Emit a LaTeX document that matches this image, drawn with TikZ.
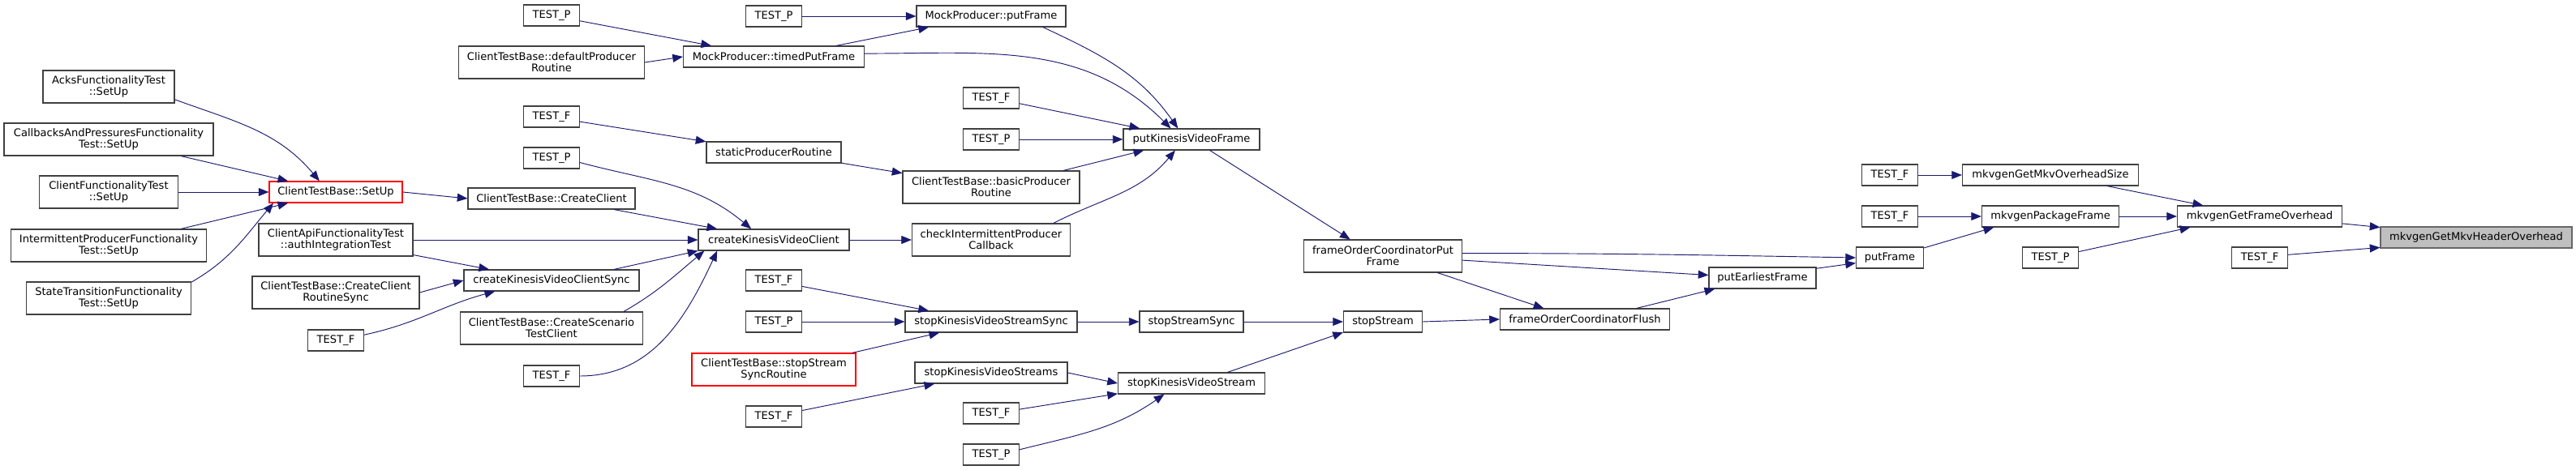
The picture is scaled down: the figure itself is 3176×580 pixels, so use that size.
\documentclass[tikz,border=0pt]{standalone}
\usepackage{fontspec}
\setmainfont{DejaVu Sans}
\usetikzlibrary{arrows.meta}
\definecolor{edgeblue}{HTML}{191970}
\definecolor{hdrgray}{HTML}{BFBFBF}
\newcommand{\dfont}{\fontsize{9.8pt}{10.5pt}\selectfont}

\begin{document}
\begin{tikzpicture}[x=0.75pt,y=-0.75pt,every node/.style={font=\dfont},
  fn/.style={draw=black!75,fill=white,line width=0.85pt,minimum width=#1*0.75pt,minimum height=19.5pt,inner sep=1pt},
  fnb/.style={fn=#1,minimum height=30pt,align=center},
  tst/.style={fn=69},
  call/.style={draw=edgeblue,line width=0.7pt,-{Triangle[length=9.5pt,width=7.5pt]}}]
\fill[white] (0,0) rectangle (3176,580);
\useasboundingbox (0,0) rectangle (3176,580);
% SetUp callers
\node[fnb=162] (acks) at (134,107) {AcksFunctionalityTest\\::SetUp};
\node[fnb=258] (cbp) at (134,172) {CallbacksAndPressuresFunctionality\\Test::SetUp};
\node[fnb=171] (cft) at (134,237) {ClientFunctionalityTest\\::SetUp};
\node[fnb=241] (ipf) at (134,303) {IntermittentProducerFunctionality\\Test::SetUp};
\node[fnb=203] (stf) at (134,368) {StateTransitionFunctionality\\Test::SetUp};
% second column
\node[fn=164,draw=red] (setup) at (414,237) {ClientTestBase::SetUp};
\node[fnb=190] (capi) at (414,296) {ClientApiFunctionalityTest\\::authIntegrationTest};
\node[fnb=206] (ccrs) at (414,361) {ClientTestBase::CreateClient\\RoutineSync};
\node[tst] (tf2) at (414,420) {TEST\_F};
% third column
\node[tst] (tp1) at (680,19) {TEST\_P};
\node[fnb=229] (dpr) at (680,77) {ClientTestBase::defaultProducer\\Routine};
\node[tst] (tf3) at (680,144) {TEST\_F};
\node[tst] (tp3) at (680,195) {TEST\_P};
\node[fn=206] (ccl) at (680,245) {ClientTestBase::CreateClient};
\node[fn=216] (ckvcs) at (680,346) {createKinesisVideoClientSync};
\node[fnb=225] (ccst) at (680,405) {ClientTestBase::CreateScenario\\TestClient};
\node[tst] (tf3b) at (680,464) {TEST\_F};
% fourth column
\node[tst] (tp4) at (954,20) {TEST\_P};
\node[fn=223] (mpt) at (954,70) {MockProducer::timedPutFrame};
\node[fn=166] (spr) at (954,188) {staticProducerRoutine};
\node[fn=186] (ckvc) at (954,296) {createKinesisVideoClient};
\node[tst] (tf4a) at (954,346) {TEST\_F};
\node[tst] (tp4b) at (954,397) {TEST\_P};
\node[fnb=202,draw=red] (ssr) at (954,456) {ClientTestBase::stopStream\\SyncRoutine};
\node[tst] (tf4c) at (954,514) {TEST\_F};
% fifth column
\node[fn=184] (mpf) at (1222,20) {MockProducer::putFrame};
\node[tst] (tf5a) at (1222,121) {TEST\_F};
\node[tst] (tp5) at (1222,172) {TEST\_P};
\node[fnb=218] (bpr) at (1222,231) {ClientTestBase::basicProducer\\Routine};
\node[fnb=195] (cipc) at (1222,296) {checkIntermittentProducer\\Callback};
\node[fn=212] (skvss) at (1222,397) {stopKinesisVideoStreamSync};
\node[fn=188] (skvs2) at (1222,460) {stopKinesisVideoStreams};
\node[tst] (tf5b) at (1222,510) {TEST\_F};
\node[tst] (tp5b) at (1222,561) {TEST\_P};
% toward the header overhead
\node[fn=168] (pkvf) at (1469,172) {putKinesisVideoFrame};
\node[fn=128] (sss) at (1469,397) {stopStreamSync};
\node[fn=181] (skvs) at (1469,473) {stopKinesisVideoStream};
\node[fnb=195] (focpf) at (1705,316) {frameOrderCoordinatorPut\\Frame};
\node[fn=97] (sst) at (1705,397) {stopStream};
\node[fn=209] (focf) at (1954,394) {frameOrderCoordinatorFlush};
\node[fn=132] (pef) at (2173,343) {putEarliestFrame};
\node[tst] (tf10a) at (2330,216) {TEST\_F};
\node[tst] (tf10b) at (2330,267) {TEST\_F};
\node[fn=83] (pf) at (2330,318) {putFrame};
\node[fn=217] (mgmos) at (2528,216) {mkvgenGetMkvOverheadSize};
\node[fn=169] (mpkf) at (2528,267) {mkvgenPackageFrame};
\node[tst] (tp11) at (2528,318) {TEST\_P};
\node[fn=203] (mgfo) at (2786,267) {mkvgenGetFrameOverhead};
\node[tst] (tf12) at (2786,318) {TEST\_F};
\node[fn=236,fill=hdrgray,draw=black!60] (hdr) at (3053,293) {mkvgenGetMkvHeaderOverhead};
% straight calls
\foreach \a/\b in {cft/setup,setup/ccl,capi/ckvc,tp4/mpf,dpr/mpt,tp5/pkvf,ckvc/cipc,tp4b/skvss,
  skvss/sss,sss/sst,sst/focf,tf10a/mgmos,tf10b/mpkf,mpkf/mgfo,skvs2/skvs,ccrs/ckvcs}
  \draw[call] (\a.east) -- (\b.west);
\foreach \a/\b in {cbp.-13/setup.167,ipf.13/setup.193,capi.-11/ckvcs.170,tp1.-11/mpt.170,
  tf3.-10/spr.171,ccl.-10/ckvc.169,ckvcs.10/ckvc.south west,mpt.10/mpf.190,spr.-9/bpr.171,
  tf4a.-12/skvss.170,ssr.12/skvss.192,tf4c.12/skvs2.191,tf5a.-11/pkvf.168,bpr.13/pkvf.193,
  tf5b.8/skvs.188,pkvf.-31/focpf.153,skvs.17/sst.195,focpf.-3/pef.177,focpf.-17/focf.165,
  focf.12/pef.193,pef.10/pf.189,pf.16/mpkf.191,mgmos.-11/mgfo.169,tp11.12/mgfo.189,
  mgfo.-5/hdr.174,tf12.6/hdr.186}
  \draw[call] (\a) -- (\b);
% curved calls
\draw[call] (acks.-11) to[out=-20,in=130] (setup.146);
\draw[call] (stf.11) to[out=30,in=-130] (setup.190);
\draw[call] (tf2.11) to[out=12,in=-165] (ckvcs.191);
\draw[call] (tp3.-9) to[out=-15,in=140] (ckvc.154);
\draw[call] (ccst.13) to[out=30,in=-140] (ckvc.189);
\draw[call] (tf3b.east) to[out=0,in=-115] (ckvc.191);
\draw[call] (mpt.2) to[out=0,in=135] (pkvf.152);
\draw[call] (mpf.-12) to[out=-25,in=125] (pkvf.141);
\draw[call] (cipc.15) to[out=27,in=-130] (pkvf.214);
\draw[call] (tp5b.10) to[out=14,in=-145] (skvs.202);
\draw[call] (focpf.2) to[out=0,in=179] (pf.west);
\end{tikzpicture}
\end{document}
